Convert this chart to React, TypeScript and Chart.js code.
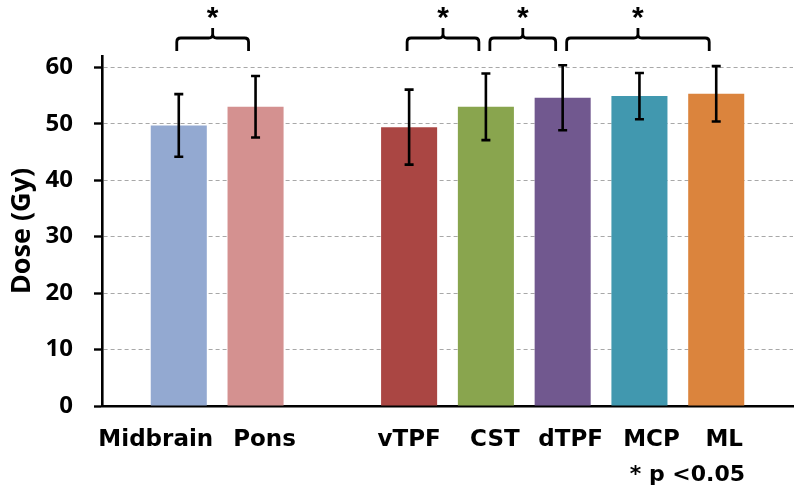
import React, { useEffect, useRef } from "react";
import { Chart, registerables } from "chart.js";

Chart.register(...registerables);

// Categories (empty strings are spacer slots)
const categories = ["", "Midbrain", "Pons", "", "vTPF", "CST", "dTPF", "MCP", "ML", ""];
// Mean dose (Gy)
const doses: (number | null)[] = [null, 49.7, 53.0, null, 49.4, 53.0, 54.6, 54.9, 55.3, null];
// Standard deviation (Gy)
const sds: (number | null)[] = [null, 5.55, 5.45, null, 6.65, 5.9, 5.75, 4.1, 4.9, null];
const barColors = [
  "#ffffff",
  "#93A9D1",
  "#D49190",
  "#ffffff",
  "#AA4643",
  "#89A54E",
  "#71588F",
  "#4198AF",
  "#DB843D",
  "#ffffff",
];
const yTicks = [0, 10, 20, 30, 40, 50, 60];
// significant comparisons (brackets)
const comparisons: [string, string][] = [
  ["Midbrain", "Pons"],
  ["vTPF", "CST"],
  ["CST", "dTPF"],
  ["dTPF", "ML"],
];
const noteText = "* p <0.05";
// label placement tweaks (px) to match the original hand-placed text boxes
const labelNudge: Record<string, number> = { Midbrain: -23, Pons: 9, CST: 9, dTPF: 8, MCP: 12, ML: 8 };

const annotationPlugin = {
  id: "annot",
  afterDatasetsDraw(chart: any) {
    const ctx = chart.ctx;
    const xs = chart.scales.x;
    const ys = chart.scales.y;
    const area = chart.chartArea;
    ctx.save();
    // error bars
    ctx.strokeStyle = "#000";
    ctx.lineWidth = 2.6;
    ctx.lineCap = "butt";
    doses.forEach((d, i) => {
      const s = sds[i];
      if (d == null || s == null) return;
      const x = xs.getPixelForValue(i);
      const yT = ys.getPixelForValue(d + s);
      const yB = ys.getPixelForValue(d - s);
      const cap = 4.5;
      ctx.beginPath();
      ctx.moveTo(x, yT);
      ctx.lineTo(x, yB);
      ctx.moveTo(x - cap, yT);
      ctx.lineTo(x + cap, yT);
      ctx.moveTo(x - cap, yB);
      ctx.lineTo(x + cap, yB);
      ctx.stroke();
    });
    // brackets
    const yH = area.top - 18;
    const yEnd = area.top - 5;
    const yPeak = area.top - 28;
    const r = 4;
    ctx.lineWidth = 2.8;
    ctx.lineJoin = "round";
    let prevRight: string | null = null;
    comparisons.forEach(([a, b]) => {
      const ia = categories.indexOf(a);
      const ib = categories.indexOf(b);
      const left = xs.getPixelForValue(ia) + (prevRight === a ? 4 : -2);
      const right = xs.getPixelForValue(ib) - 7;
      prevRight = b;
      const mid = (left + right) / 2;
      ctx.beginPath();
      ctx.moveTo(left, yEnd);
      ctx.lineTo(left, yH + r);
      ctx.quadraticCurveTo(left, yH, left + r, yH);
      ctx.lineTo(mid - r, yH);
      ctx.quadraticCurveTo(mid, yH, mid, yH - r);
      ctx.lineTo(mid, yPeak);
      ctx.moveTo(mid, yH - r);
      ctx.quadraticCurveTo(mid, yH, mid + r, yH);
      ctx.lineTo(right - r, yH);
      ctx.quadraticCurveTo(right, yH, right, yH + r);
      ctx.lineTo(right, yEnd);
      ctx.stroke();
      ctx.fillStyle = "#000";
      ctx.font = "bold 30px 'Liberation Sans', Arial, sans-serif";
      ctx.textAlign = "center";
      ctx.textBaseline = "alphabetic";
      ctx.fillText("*", mid, area.top - 29);
    });
    // category labels
    ctx.fillStyle = "#000";
    ctx.font = "bold 23px 'DejaVu Sans', sans-serif";
    ctx.textAlign = "center";
    ctx.textBaseline = "alphabetic";
    categories.forEach((c, i) => {
      if (!c) return;
      const x = xs.getPixelForValue(i) + (labelNudge[c] || 0);
      ctx.fillText(c, x, area.bottom + 40);
    });
    // note
    ctx.font = "bold 22px 'DejaVu Sans', sans-serif";
    ctx.textAlign = "right";
    ctx.fillText(noteText, area.right - 48, 481);
    ctx.restore();
  },
};

export default function App() {
  const ref = useRef<HTMLCanvasElement | null>(null);
  useEffect(() => {
    if (!ref.current) return;
    const chart = new Chart(ref.current, {
      type: "bar",
      data: {
        labels: categories,
        datasets: [
          {
            data: doses as any,
            backgroundColor: barColors,
            borderWidth: 0,
            barPercentage: 0.73,
            categoryPercentage: 1,
          },
        ],
      },
      options: {
        responsive: false,
        animation: false,
        layout: { padding: { top: 56, right: 7, left: 0, bottom: 0 } },
        plugins: {
          legend: { display: false },
          tooltip: { enabled: false },
        },
        scales: {
          x: {
            offset: false,
            grid: { display: false, drawTicks: false },
            border: { display: true, color: "#000", width: 2.6 },
            ticks: { display: false, padding: 0 },
            afterFit: (scale: any) => {
              scale.height = 89;
            },
          },
          y: {
            min: 0,
            max: 62,
            afterBuildTicks: (scale: any) => {
              scale.ticks = yTicks.map((v) => ({ value: v }));
            },
            grid: {
              color: "#a8a8a8",
              lineWidth: 1,
              drawTicks: true,
              tickLength: 8,
              tickColor: "#000",
              tickWidth: 2.4,
            },
            border: { display: true, color: "#000", width: 2.6, dash: [4, 3] },
            ticks: {
              color: "#000",
              padding: 21,
              font: { family: "'Open Sans', sans-serif", size: 24, weight: "bold" },
            },
            title: {
              display: true,
              text: "Dose (Gy)",
              color: "#000",
              padding: { top: 6, bottom: 4 },
              font: { family: "'Open Sans', sans-serif", size: 27, weight: "bold" },
            },
            afterFit: (scale: any) => {
              scale.width = 102;
            },
          },
        },
      },
      plugins: [annotationPlugin],
    });
    return () => chart.destroy();
  }, []);
  return (
    <div style={{ position: "fixed", left: 0, top: 0, width: 800, height: 495, background: "#fff" }}>
      <canvas ref={ref} width={800} height={495} style={{ display: "block" }} />
    </div>
  );
}
